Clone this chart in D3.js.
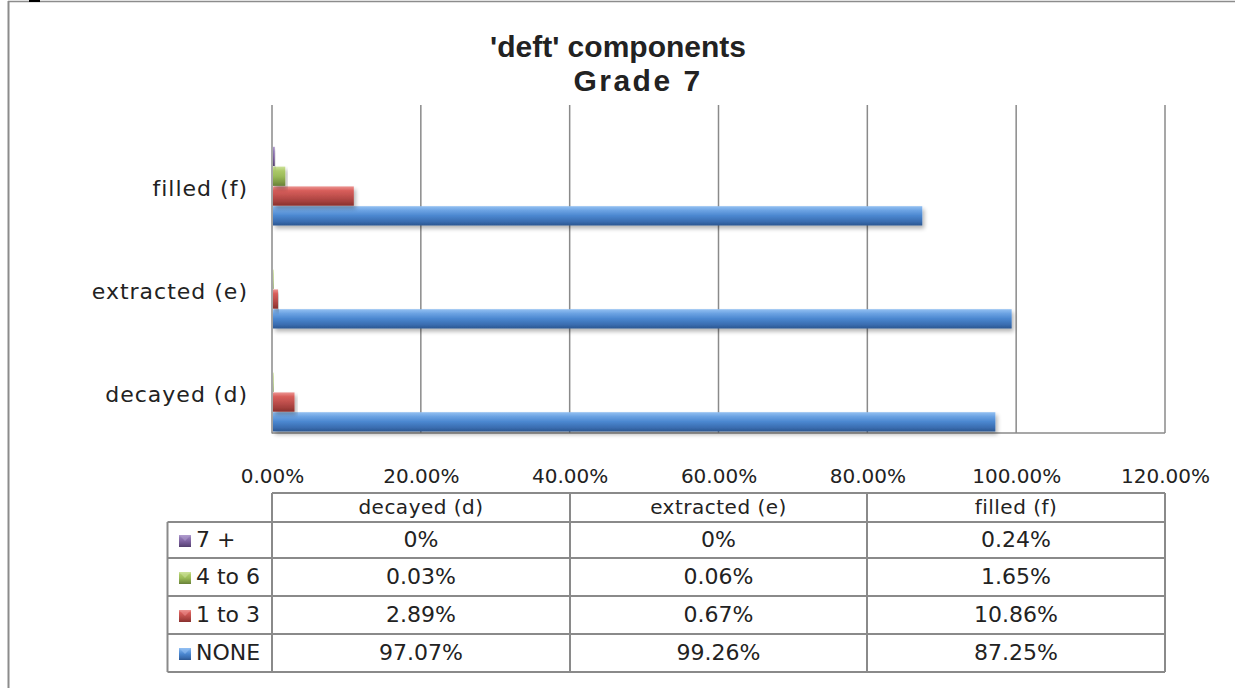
<!DOCTYPE html>
<html><head><meta charset="utf-8">
<script src="https://cdn.jsdelivr.net/npm/d3@7"></script>
<style>
html,body{margin:0;padding:0;background:#fff;}
svg{display:block;}
text{font-family:"DejaVu Sans",sans-serif;fill:#222;}
</style></head>
<body>
<svg id="chart" width="1235" height="688"></svg>
<script>
const titleLines = ["'deft' components", "Grade 7"];
const categories = ["decayed (d)", "extracted (e)", "filled (f)"];
const seriesNames = ["NONE", "1 to 3", "4 to 6", "7 +"];
const valNONE = [97.07, 99.26, 87.25];
const val1to3 = [2.89, 0.67, 10.86];
const val4to6 = [0.03, 0.06, 1.65];
const val7plus = [0, 0, 0.24];
const xTicks = [0, 20, 40, 60, 80, 100, 120];
const colors = {
  "NONE": ["#93C0F2", "#6CA3E3", "#4A86CF", "#3A6DB0", "#2C5690"],
  "1 to 3": ["#EC9491", "#D85E5B", "#C0504D", "#A23E3B", "#87302E"],
  "4 to 6": ["#CDE29A", "#ACC968", "#9BBB59", "#7E9A44", "#67803A"],
  "7 +": ["#B19CCD", "#917AB5", "#8064A2", "#664E85", "#533F6D"]
};
const seriesValues = {"NONE": valNONE, "1 to 3": val1to3, "4 to 6": val4to6, "7 +": val7plus};

const svg = d3.select("#chart");
const defs = svg.append("defs");
seriesNames.forEach((s, i) => {
  const g = defs.append("linearGradient").attr("id", "g" + i).attr("x1", 0).attr("y1", 0).attr("x2", 0).attr("y2", 1);
  const c = colors[s];
  [[0, c[0]], [0.22, c[1]], [0.5, c[2]], [0.8, c[3]], [1, c[4]]].forEach(([o, col]) =>
    g.append("stop").attr("offset", o).attr("stop-color", col));
});
const flt = defs.append("filter").attr("id", "sh").attr("x", "-5%").attr("y", "-30%").attr("width", "120%").attr("height", "180%");
flt.append("feGaussianBlur").attr("in", "SourceAlpha").attr("stdDeviation", 2);
flt.append("feOffset").attr("dx", 2).attr("dy", 3).attr("result", "b");
flt.append("feComponentTransfer").append("feFuncA").attr("type", "linear").attr("slope", 0.3);
const m = flt.append("feMerge"); m.append("feMergeNode"); m.append("feMergeNode").attr("in", "SourceGraphic");

// outer frame
svg.append("line").attr("x1", 8.5).attr("x2", 8.5).attr("y1", 1).attr("y2", 688).attr("stroke", "#8c8c8c").attr("stroke-width", 2);
svg.append("line").attr("x1", 8).attr("x2", 1235).attr("y1", 1.5).attr("y2", 1.5).attr("stroke", "#8c8c8c").attr("stroke-width", 1.5);
svg.append("rect").attr("x", 29).attr("y", 0).attr("width", 11).attr("height", 2).attr("fill", "#000");

// title
svg.append("text").attr("x", 618).attr("y", 57).attr("text-anchor", "middle")
  .style("font-family", "'Liberation Sans',Arial,sans-serif").style("font-weight", "bold").style("font-size", "30px").text(titleLines[0]);
svg.append("text").attr("x", 638).attr("y", 91).attr("text-anchor", "middle")
  .style("font-family", "'Liberation Sans',Arial,sans-serif").style("font-weight", "bold").style("font-size", "30px")
  .style("letter-spacing", "2.5px").text(titleLines[1]);

const x = d3.scaleLinear().domain([0, 120]).range([272, 1165]);
const plotTop = 105, plotBottom = 433;
const y = d3.scaleBand().domain(categories).range([plotBottom, 124]);
const barH = 19.8;
const sub = d3.scaleBand().domain(seriesNames).range([0, -barH * 4]);

// gridlines
svg.append("g").selectAll("line").data(xTicks.slice(1)).join("line")
  .attr("x1", d => x(d)).attr("x2", d => x(d)).attr("y1", plotTop).attr("y2", plotBottom)
  .attr("stroke", "#8a8a8a").attr("stroke-width", 1.5);
// axis lines
svg.append("line").attr("x1", x(0)).attr("x2", x(0)).attr("y1", plotTop).attr("y2", plotBottom + 0.5).attr("stroke", "#8a8a8a").attr("stroke-width", 1.5);
svg.append("line").attr("x1", x(0)).attr("x2", x(120)).attr("y1", plotBottom).attr("y2", plotBottom).attr("stroke", "#8a8a8a").attr("stroke-width", 1.5);

// bars
const bars = [];
categories.forEach((c, ci) => seriesNames.forEach((s, si) => bars.push({c, s, si, v: seriesValues[s][ci]})));
svg.append("g").selectAll("rect").data(bars.filter(d => d.v > 0)).join("rect")
  .attr("x", x(0) + 1)
  .attr("y", d => y(d.c) + y.bandwidth() + sub(d.s) - 1)
  .attr("width", d => Math.max(0.6, x(d.v) - x(0)))
  .attr("height", barH - 0.5)
  .attr("fill", d => `url(#g${d.si})`)
  .attr("filter", "url(#sh)");

// category labels
svg.append("g").selectAll("text").data(categories).join("text")
  .attr("x", 248).attr("y", d => y(d) + y.bandwidth() - barH * 2 + 3)
  .attr("text-anchor", "end").attr("dominant-baseline", "middle")
  .style("font-size", "22px").style("letter-spacing", "1px").text(d => d);

// tick labels
const xAxis = d3.axisBottom(x).tickValues(xTicks).tickSize(0).tickPadding(0).tickFormat(d => d.toFixed(2) + "%");
const ax = svg.append("g").attr("transform", `translate(0,${469})`).call(xAxis);
ax.select(".domain").remove();
ax.selectAll("text").style("font-size", "20px").style("font-family", "'DejaVu Sans',sans-serif").attr("fill", "#222");

// data table
const tLeft = 167.5, colX = [272, 570, 867, 1165];
const headTop = 493, rowY = [522, 558, 596, 634, 672];
const tableRows = ["7 +", "4 to 6", "1 to 3", "NONE"];
const tg = svg.append("g");
const stroke = "#8a8a8a";
tg.append("line").attr("x1", colX[0]).attr("x2", colX[3]).attr("y1", headTop).attr("y2", headTop).attr("stroke", stroke).attr("stroke-width", 2);
rowY.forEach(yy => tg.append("line").attr("x1", tLeft).attr("x2", colX[3]).attr("y1", yy).attr("y2", yy).attr("stroke", stroke).attr("stroke-width", 2));
colX.forEach(xx => tg.append("line").attr("x1", xx).attr("x2", xx).attr("y1", headTop).attr("y2", rowY[4]).attr("stroke", stroke).attr("stroke-width", 2));
tg.append("line").attr("x1", tLeft).attr("x2", tLeft).attr("y1", rowY[0]).attr("y2", rowY[4]).attr("stroke", stroke).attr("stroke-width", 2);

categories.forEach((c, ci) => {
  tg.append("text").attr("x", (colX[ci] + colX[ci + 1]) / 2).attr("y", (headTop + rowY[0]) / 2 + 1)
    .attr("text-anchor", "middle").attr("dominant-baseline", "middle")
    .style("font-size", "20px").style("letter-spacing", "0.5px").text(c);
});
const fmt = v => v === 0 ? "0%" : v.toFixed(2) + "%";
tableRows.forEach((s, ri) => {
  const cy = (rowY[ri] + rowY[ri + 1]) / 2 + 1;
  const si = seriesNames.indexOf(s);
  tg.append("rect").attr("x", 179).attr("y", cy - 6).attr("width", 12).attr("height", 12).attr("fill", `url(#g${si})`);
  tg.append("path").attr("d", `M179,${cy - 6}L191,${cy - 6}L185,${cy}Z`).attr("fill", colors[s][0]).attr("opacity", 0.55);
  tg.append("text").attr("x", 196).attr("y", cy).attr("dominant-baseline", "middle")
    .style("font-size", "22px").text(s);
  categories.forEach((c, ci) => {
    tg.append("text").attr("x", (colX[ci] + colX[ci + 1]) / 2).attr("y", cy)
      .attr("text-anchor", "middle").attr("dominant-baseline", "middle")
      .style("font-size", "22px").text(fmt(seriesValues[s][ci]));
  });
});
</script>
</body></html>
